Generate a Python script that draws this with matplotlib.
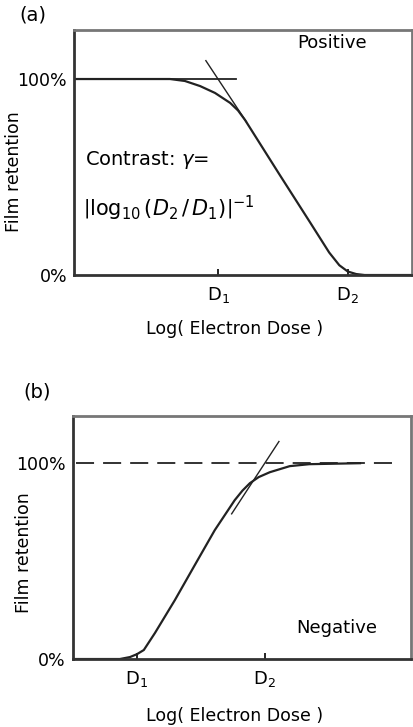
import matplotlib
matplotlib.use("Agg")
import matplotlib.pyplot as plt
import numpy as np

plt.rcParams['font.family'] = ['DejaVu Sans']
plt.rcParams['mathtext.fontset'] = 'dejavusans'

# log dose in arbitrary units (0..10), retention in %
pos_dose = [0.0, 2.84, 3.28, 3.73, 4.17, 4.62, 4.85, 5.06, 6.09, 6.98, 7.55, 7.85, 8.1, 8.35, 8.6, 10.0]
pos_ret = [100, 100, 99, 96.4, 92.9, 87.8, 84.0, 79.1, 51.0, 27.0, 11.5, 5.0, 1.8, 0.5, 0, 0]
pos_d = [4.26, 8.1]            # D1, D2 for positive resist
pos_tangent_x = [3.9, 5.1]
pos_ref_x = [0.0, 4.8]         # 100% reference line

neg_dose = [0.0, 1.39, 1.69, 1.9, 2.1, 2.43, 3.02, 3.61, 4.2, 4.79, 5.02, 5.24, 5.5, 5.83, 6.42, 7.0, 8.5]
neg_ret = [0, 0, 1, 2.5, 4.6, 13.3, 30.1, 48, 65.8, 81.1, 86.0, 89.8, 92.9, 95.4, 98.5, 99.5, 100]
neg_d = [1.89, 5.68]
neg_tangent_x = [4.7, 6.1]
neg_ref_x = [0.1, 9.47]

tick_labels_y = ['0%', '100%']
tick_labels_x = ['D$_1$', 'D$_2$']

fig = plt.figure(figsize=(4.14, 7.27), dpi=100)


def style_axes(ax, ytop):
    ax.set_xlim(0, 10)
    ax.set_ylim(0, ytop)
    for s in ['left', 'bottom']:
        ax.spines[s].set_linewidth(2)
        ax.spines[s].set_color('#333333')
    for s in ['top', 'right']:
        ax.spines[s].set_linewidth(2)
        ax.spines[s].set_color('#777777')
    ax.set_yticks([0, 100])
    ax.set_yticklabels(tick_labels_y, fontsize=12.5)
    ax.tick_params(axis='y', length=0, pad=5)
    ax.tick_params(axis='x', direction='in', length=4, width=1.2, pad=7)
    ax.set_ylabel('Film retention', fontsize=12.5)
    ax.set_xlabel('Log( Electron Dose )', fontsize=12.5)


def tangent(d, x):
    x = np.array(x)
    slope = 100.0 / (d[1] - d[0])
    return x, 100 - slope * (x - d[0])


# (a) positive
ax1 = fig.add_axes([0.179, 0.6217, 0.816, 0.337])
style_axes(ax1, 125)
ax1.plot(pos_dose, pos_ret, color='#222222', lw=1.6)
ax1.plot(pos_ref_x, [100, 100], color='#222222', lw=1.3)
tx, ty = tangent(pos_d, pos_tangent_x)
ax1.plot(tx, ty, color='#222222', lw=1)
ax1.set_xticks(pos_d)
ax1.set_xticklabels(tick_labels_x, fontsize=13)
ax1.yaxis.set_label_coords(-0.151, 0.42)
ax1.xaxis.set_label_coords(0.476, -0.184)
ax1.text(0.763, 0.947, 'Positive', transform=ax1.transAxes, fontsize=13,
         ha='center', va='center')
ax1.text(0.033, 0.469, 'Contrast: $\\gamma$=', transform=ax1.transAxes,
         fontsize=14, ha='left', va='center')
ax1.text(0.025, 0.27, r'$\left|\log_{10}\left(D_2\,/\,D_1\right)\right|^{-1}$',
         transform=ax1.transAxes, fontsize=15, ha='left', va='center')
fig.text(0.048, 0.979, '(a)', fontsize=14, ha='left', va='center')

# (b) negative
ax2 = fig.add_axes([0.176, 0.0935, 0.816, 0.334])
style_axes(ax2, 124)
ax2.plot(neg_dose, neg_ret, color='#222222', lw=1.6)
ax2.plot(neg_ref_x, [100, 100], color='#222222', lw=1.3, dashes=(10, 5))
nx = np.array(neg_tangent_x)
ax2.plot(nx, 100 * (nx - neg_d[0]) / (neg_d[1] - neg_d[0]), color='#222222', lw=1)
ax2.set_xticks(neg_d)
ax2.set_xticklabels(tick_labels_x, fontsize=13)
ax2.yaxis.set_label_coords(-0.118, 0.44)
ax2.xaxis.set_label_coords(0.479, -0.198)
ax2.text(0.781, 0.128, 'Negative', transform=ax2.transAxes, fontsize=13,
         ha='center', va='center')
fig.text(0.056, 0.461, '(b)', fontsize=14, ha='left', va='center')

fig.savefig('out.png', dpi=100)
